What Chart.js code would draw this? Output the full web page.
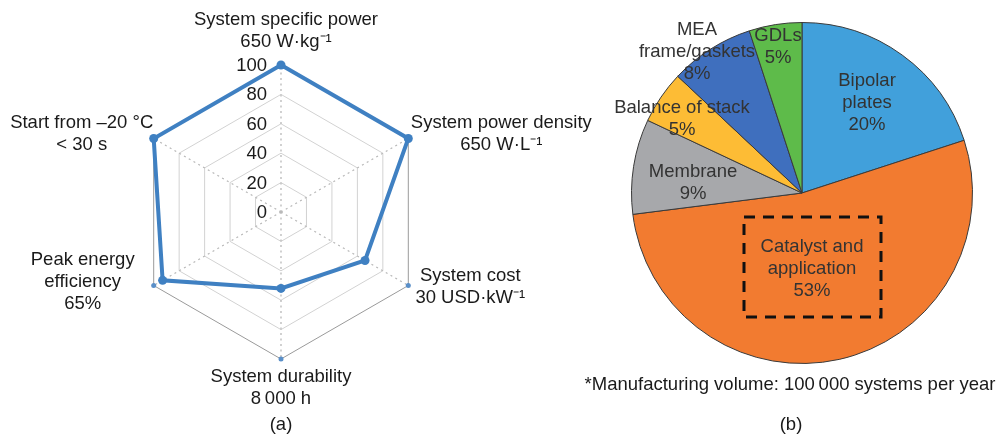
<!DOCTYPE html>
<html><head><meta charset="utf-8">
<script src="https://cdn.jsdelivr.net/npm/chart.js@4/dist/chart.umd.min.js"></script>
<style>
html,body{margin:0;padding:0;background:#fff;width:1001px;height:437px;overflow:hidden}
#ca{position:absolute;left:0;top:0}
#cb{position:absolute;left:560px;top:0}
</style></head><body>
<canvas id="cb" width="441" height="437"></canvas>
<canvas id="ca" width="610" height="437"></canvas>
<script>
// ---------- data ----------
const radarCategories = [
  ['System specific power', '650 W\u00B7kg\u207B\u00B9'],
  ['System power density', '650 W\u00B7L\u207B\u00B9'],
  ['System cost', '30 USD\u00B7kW\u207B\u00B9'],
  ['System durability', '8\u2009000 h'],
  ['Peak energy', 'efficiency', '65%'],
  ['Start from \u201320 \u00B0C', '< 30 s']
];
const radarValues = [100, 100, 66, 52, 93, 100];
const radarAxisEnds = [100, 100, 100, 100, 100, 100];
const radarTicks = [0, 20, 40, 60, 80, 100];

const pieCategories = [
  ['Bipolar', 'plates'],
  ['Catalyst and', 'application'],
  ['Membrane'],
  ['Balance of stack'],
  ['MEA', 'frame/gaskets'],
  ['GDLs']
];
const pieValues = [20, 53, 9, 5, 8, 5];
const footnote = '*Manufacturing volume: 100\u2009000 systems per year';

// ---------- styles ----------
const FONT = '18.5px "Liberation Sans", Arial, sans-serif';
const LH = 22;
const pieColors = ['#41a0db', '#f27b30', '#a7a8ab', '#fdbc35', '#3f6fbe', '#5ebb4a'];
const radarLabelOffsets = [[5, -34], [93, -5], [62, 1], [0, 29], [-71, -4], [-72, -5]];
const pieLabelOffsets = [[65, -90], [10, 76], [-109, -10], [-120, -74], [-105, -141], [-24, -146]];

// ---------- radar ----------
const radarText = {
  id: 'radarText',
  afterDraw(chart) {
    const s = chart.scales.r, ctx = chart.ctx;
    ctx.save();
    ctx.font = FONT;
    ctx.fillStyle = '#1a1a1a';
    ctx.textBaseline = 'middle';
    ctx.textAlign = 'right';
    radarTicks.forEach(v => {
      const d = s.getDistanceFromCenterForValue(v);
      ctx.fillText(String(v), s.xCenter - 14, s.yCenter - d + 1);
    });
    ctx.textAlign = 'center';
    radarCategories.forEach((lines, i) => {
      const p = s.getPointPosition(i, s.drawingArea);
      const [dx, dy] = radarLabelOffsets[i];
      const cx = p.x + dx, cy = p.y + dy;
      lines.forEach((t, j) => ctx.fillText(t, cx, cy + (j - (lines.length - 1) / 2) * LH));
    });
    ctx.fillText('(a)', s.xCenter, 425);
    ctx.restore();
  }
};

new Chart(document.getElementById('ca'), {
  type: 'radar',
  data: {
    labels: radarCategories,
    datasets: [
      {
        data: radarValues,
        borderColor: '#3f80c2',
        backgroundColor: 'rgba(0,0,0,0)',
        borderWidth: 4,
        pointRadius: 4.5,
        pointBackgroundColor: '#3f80c2',
        pointBorderWidth: 0,
        fill: false
      },
      {
        data: radarAxisEnds,
        showLine: false,
        borderColor: 'rgba(0,0,0,0)',
        backgroundColor: 'rgba(0,0,0,0)',
        pointRadius: 2.5,
        pointBackgroundColor: '#5a8fc8',
        pointBorderWidth: 0,
        fill: false
      }
    ]
  },
  options: {
    responsive: false,
    animation: false,
    devicePixelRatio: 1,
    layout: { padding: { left: 134, top: 65, right: 182, bottom: 78 } },
    plugins: { legend: { display: false }, tooltip: { enabled: false } },
    elements: { line: { tension: 0 } },
    scales: {
      r: {
        min: 0, max: 100,
        ticks: { display: false, stepSize: 20 },
        pointLabels: { display: false },
        grid: {
          color: c => (c.tick && c.tick.value === 100) ? '#9a9a9a' : '#d2d2d2',
          lineWidth: 1
        },
        angleLines: { color: '#b8b8b8', lineWidth: 1.3, borderDash: [2, 3.5] }
      }
    }
  },
  plugins: [radarText]
});

// ---------- pie ----------
const pieText = {
  id: 'pieText',
  afterDraw(chart) {
    const arc = chart.getDatasetMeta(0).data[0];
    const cx0 = arc.x, cy0 = arc.y;
    const ctx = chart.ctx;
    ctx.save();
    ctx.font = FONT;
    ctx.fillStyle = '#333';
    ctx.textAlign = 'center';
    ctx.textBaseline = 'middle';
    pieCategories.forEach((lines, i) => {
      const all = lines.concat([pieValues[i] + '%']);
      const [dx, dy] = pieLabelOffsets[i];
      const cx = cx0 + dx, cy = cy0 + dy;
      all.forEach((t, j) => ctx.fillText(t, cx, cy + (j - (all.length - 1) / 2) * LH));
    });
    // dashed highlight box around the catalyst label
    ctx.strokeStyle = '#111';
    ctx.lineWidth = 3;
    ctx.setLineDash([11, 8]);
    ctx.strokeRect(cx0 - 58, cy0 + 24, 137, 100);
    ctx.setLineDash([]);
    ctx.fillStyle = '#1a1a1a';
    ctx.fillText(footnote, cx0 - 12, 385);
    ctx.fillText('(b)', cx0 - 11, 425);
    ctx.restore();
  }
};

new Chart(document.getElementById('cb'), {
  type: 'pie',
  data: {
    labels: pieCategories,
    datasets: [{
      data: pieValues,
      backgroundColor: pieColors,
      borderColor: '#3a3a3a',
      borderWidth: 1
    }]
  },
  options: {
    responsive: false,
    animation: false,
    devicePixelRatio: 1,
    layout: { padding: { left: 71, top: 22, right: 28, bottom: 73 } },
    plugins: { legend: { display: false }, tooltip: { enabled: false } }
  },
  plugins: [pieText]
});
</script>
</body></html>
